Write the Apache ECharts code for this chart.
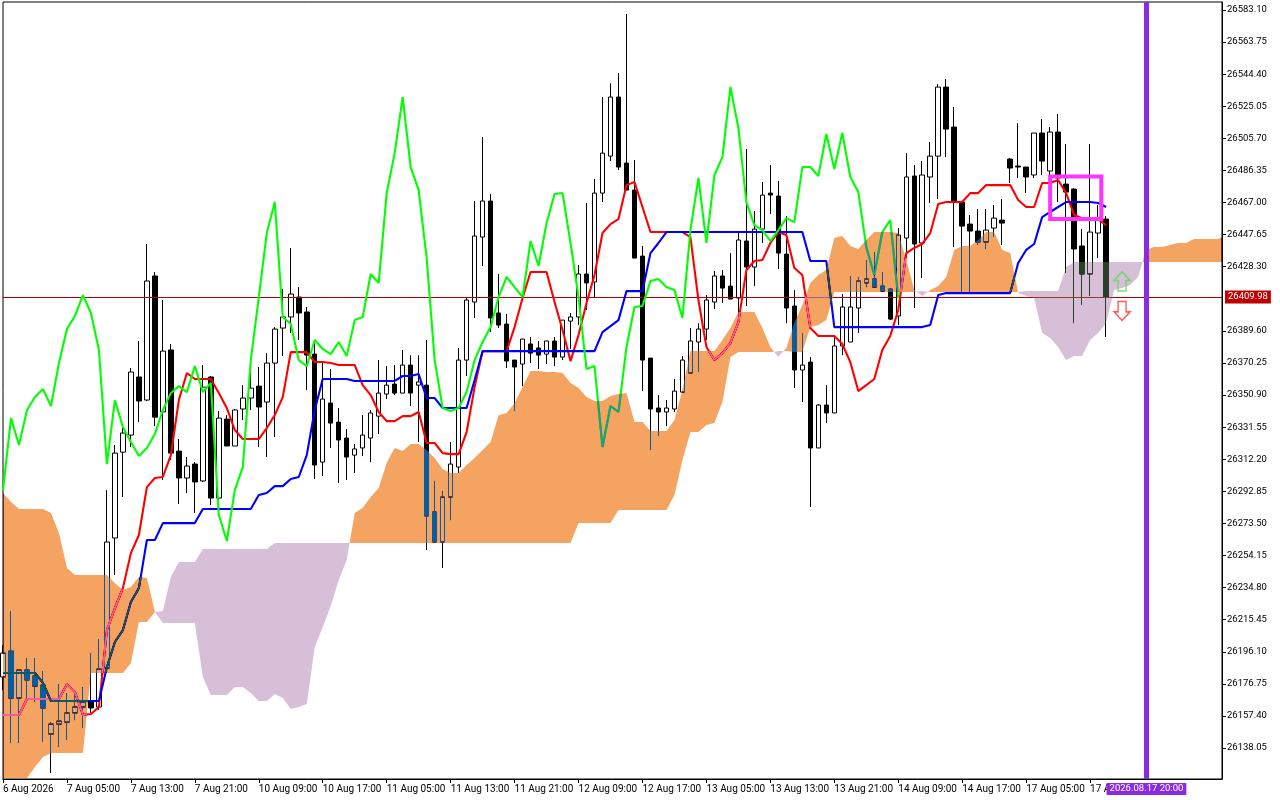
<!DOCTYPE html>
<html><head><meta charset="utf-8">
<style>html,body{margin:0;padding:0;background:#fff}#c{width:1280px;height:800px}</style>
<script src="https://cdn.jsdelivr.net/npm/echarts@6/dist/echarts.min.js"></script>
</head><body><div id="c"></div>
<script>
const timeLabels=["6 Aug 2026","7 Aug 05:00","7 Aug 13:00","7 Aug 21:00","10 Aug 09:00","10 Aug 17:00","11 Aug 05:00","11 Aug 13:00","11 Aug 21:00","12 Aug 09:00","12 Aug 17:00","13 Aug 05:00","13 Aug 13:00","13 Aug 21:00","14 Aug 09:00","14 Aug 17:00","17 Aug 05:00","17 Aug 13:00"];
const priceTicks=[26583.10,26563.75,26544.40,26525.05,26505.70,26486.35,26467.00,26447.65,26428.30,26389.60,26370.25,26350.90,26331.55,26312.20,26292.85,26273.50,26254.15,26234.80,26215.45,26196.10,26176.75,26157.40,26138.05];
const opens=[26180.9,26196.5,26168.2,26185.1,26181.5,26176.0,26146.5,26152.5,26153.7,26159.2,
26162.8,26165.8,26162.8,26186.3,26264.7,26316.5,26326.8,26361.8,26347.9,26422.7,
26340.7,26378.1,26317.1,26300.9,26309.3,26299.1,26361.8,26288.8,26336.4,26320.2,
26342.5,26349.1,26356.3,26346.7,26370.2,26391.3,26398.0,26410.0,26401.0,26375.6,
26310.5,26346.1,26334.6,26325.0,26314.7,26319.0,26325.0,26338.2,26351.5,26357.5,
26352.1,26369.0,26356.9,26356.9,26280.4,26262.3,26289.4,26307.5,26372.0,26407.0,
26446.2,26467.9,26400.4,26393.7,26372.0,26369.6,26381.7,26379.3,26375.6,26383.5,
26373.8,26395.5,26398.0,26423.9,26419.1,26472.7,26495.0,26530.6,26490.8,26474.5,
26434.7,26373.2,26343.1,26340.7,26342.5,26352.7,26364.2,26382.9,26390.7,26407.0,
26422.7,26416.6,26409.4,26443.8,26428.1,26451.0,26472.7,26470.9,26435.9,26404.6,
26366.0,26370.8,26319.0,26344.9,26340.1,26380.5,26382.9,26403.4,26418.5,26420.9,
26416.6,26414.8,26398.6,26445.6,26483.0,26442.6,26482.4,26495.0,26536.6,26512.5,
26467.3,26454.0,26449.8,26443.2,26451.6,26456.4,26493.2,26489.0,26488.4,26483.6,
26508.9,26486.0,26509.5,26478.1,26475.1,26440.8,26423.9,26448.6,26457.0];
const closes=[26195.3,26168.2,26185.1,26179.1,26175.4,26162.2,26152.5,26154.3,26159.2,26162.8,
26165.8,26162.2,26185.7,26262.3,26315.9,26328.0,26364.8,26347.3,26419.7,26337.6,
26377.4,26315.9,26300.9,26308.1,26298.5,26355.7,26288.8,26337.0,26320.2,26341.9,
26349.1,26355.1,26343.7,26370.2,26390.7,26398.0,26411.8,26400.4,26375.0,26308.7,
26348.5,26334.0,26323.8,26313.5,26318.4,26326.8,26340.1,26352.1,26356.9,26352.1,
26369.0,26352.1,26358.8,26278.0,26262.3,26289.4,26309.3,26372.0,26408.2,26446.8,
26467.9,26397.4,26393.1,26371.4,26367.8,26384.7,26376.2,26375.0,26383.5,26373.8,
26396.1,26398.0,26423.9,26418.5,26472.7,26496.8,26530.6,26488.4,26474.5,26433.5,
26372.0,26342.5,26340.7,26343.1,26353.3,26372.0,26383.5,26390.7,26408.2,26422.7,
26415.4,26408.8,26444.4,26428.1,26451.0,26471.5,26471.5,26436.5,26403.4,26366.0,
26369.0,26319.0,26344.9,26340.1,26380.5,26404.0,26404.0,26419.7,26420.9,26416.0,
26413.6,26396.7,26447.4,26482.4,26442.0,26483.6,26495.0,26536.6,26511.3,26467.3,
26452.8,26449.8,26443.2,26450.4,26457.6,26454.6,26487.8,26488.4,26482.4,26508.9,
26492.0,26509.5,26481.8,26473.3,26439.0,26423.9,26449.2,26457.6,26409.98];
const lows=[26173.0,26141.1,26141.1,26168.2,26165.8,26141.7,26123.0,26138.7,26142.9,26154.9,
26150.1,26159.2,26161.0,26185.1,26242.4,26289.4,26319.6,26334.6,26347.3,26332.2,
26299.7,26311.7,26285.2,26291.8,26279.8,26298.5,26284.6,26287.6,26320.2,26320.2,
26335.8,26341.9,26319.6,26313.5,26325.6,26374.4,26388.3,26384.1,26353.9,26300.3,
26302.1,26319.0,26297.9,26299.7,26303.9,26314.1,26310.5,26327.4,26348.5,26350.9,
26352.1,26344.3,26322.6,26257.5,26261.7,26246.6,26275.5,26303.9,26362.4,26397.4,
26428.7,26388.9,26391.3,26367.2,26341.3,26356.3,26370.2,26366.6,26369.6,26368.4,
26372.0,26378.7,26393.1,26402.2,26410.0,26467.3,26492.0,26486.6,26474.5,26433.5,
26353.3,26317.8,26326.2,26332.2,26340.7,26352.7,26364.2,26364.8,26384.1,26402.8,
26406.4,26408.8,26400.4,26404.6,26416.6,26442.6,26460.1,26426.9,26394.3,26355.1,
26346.7,26283.4,26319.0,26334.0,26340.1,26375.0,26382.9,26388.3,26416.0,26416.0,
26413.6,26396.1,26393.1,26433.5,26403.4,26421.5,26466.7,26469.1,26494.4,26440.2,
26413.0,26413.0,26441.4,26439.0,26446.2,26441.4,26478.8,26481.8,26472.7,26481.8,
26483.6,26483.6,26467.3,26424.5,26394.3,26405.2,26410.6,26433.5,26385.9];
const highs=[26200.2,26220.7,26185.7,26192.3,26192.3,26184.5,26153.7,26176.6,26171.2,26171.2,
26174.8,26195.3,26203.8,26293.6,26320.8,26331.6,26367.2,26383.5,26442.0,26425.1,
26408.2,26381.7,26324.4,26313.5,26310.5,26369.0,26362.4,26341.3,26338.8,26342.5,
26356.9,26364.2,26367.8,26376.2,26391.9,26414.8,26439.6,26416.0,26404.0,26382.3,
26370.8,26366.6,26343.1,26330.4,26321.4,26338.8,26341.9,26372.0,26368.4,26369.0,
26378.1,26375.0,26375.0,26384.1,26299.1,26293.0,26322.6,26379.3,26410.0,26467.9,
26506.5,26472.1,26423.9,26399.8,26372.0,26384.7,26385.9,26383.5,26383.5,26385.9,
26396.1,26400.4,26429.3,26466.7,26481.2,26530.6,26539.0,26545.1,26580.7,26492.6,
26440.8,26373.2,26350.9,26347.9,26360.6,26374.4,26391.3,26394.3,26411.2,26425.7,
26426.3,26436.5,26449.2,26499.3,26461.9,26479.4,26489.6,26480.0,26458.8,26414.2,
26388.3,26373.8,26345.5,26356.9,26387.1,26411.8,26422.7,26422.1,26432.3,26437.1,
26425.1,26414.8,26451.6,26496.8,26489.6,26492.0,26503.5,26538.4,26541.5,26524.6,
26467.3,26459.5,26463.1,26463.1,26465.5,26469.1,26493.8,26514.9,26488.4,26508.9,
26517.3,26512.5,26520.4,26502.3,26475.7,26451.0,26502.3,26465.5,26458.8];
const tenkan=[26158.0,26158.0,26158.0,26167.6,26167.6,26167.6,26167.6,26167.6,26176.6,26171.8,
26158.0,26158.6,26162.8,26209.2,26222.5,26234.5,26255.6,26266.5,26295.4,26300.9,
26301.5,26314.7,26347.9,26364.2,26360.6,26360.6,26360.6,26352.1,26343.1,26329.8,
26324.4,26324.4,26324.4,26331.0,26338.8,26349.7,26376.8,26376.8,26376.8,26370.8,
26370.8,26370.2,26369.0,26369.0,26369.0,26356.9,26350.9,26340.7,26335.2,26335.2,
26338.2,26338.2,26340.7,26322.0,26322.0,26315.9,26315.3,26315.3,26328.6,26355.7,
26377.4,26377.4,26377.4,26377.4,26391.9,26409.4,26425.1,26425.1,26425.1,26407.0,
26390.1,26371.4,26387.1,26406.4,26423.3,26448.6,26454.0,26457.0,26477.5,26479.4,
26464.3,26449.2,26449.2,26449.2,26449.2,26449.2,26446.2,26408.2,26379.9,26372.0,
26376.2,26382.3,26394.9,26426.3,26431.7,26432.3,26442.6,26449.2,26447.4,26427.5,
26423.3,26391.3,26386.5,26386.5,26386.5,26381.7,26370.8,26353.3,26356.9,26360.6,
26378.1,26386.5,26402.2,26436.5,26439.6,26442.0,26448.6,26466.1,26467.3,26467.3,
26467.3,26472.7,26472.7,26477.5,26477.5,26477.5,26477.5,26468.5,26464.3,26464.3,
26478.8,26478.8,26480.6,26472.7,26459.5,26457.6,26457.6,26457.0,26453.4];
const kijun=[26183.3,26183.3,26183.3,26183.3,26183.3,26177.3,26166.4,26166.4,26166.4,26166.4,
26166.4,26166.4,26166.4,26186.9,26202.0,26209.2,26226.1,26234.5,26263.5,26263.5,
26273.7,26273.7,26273.7,26273.7,26273.7,26282.2,26282.2,26282.2,26282.2,26282.2,
26282.2,26282.2,26290.6,26291.8,26296.0,26296.0,26300.3,26301.5,26314.7,26341.9,
26360.6,26360.6,26360.6,26360.6,26359.4,26359.4,26359.4,26359.4,26359.4,26359.4,
26362.4,26362.4,26363.6,26349.1,26349.1,26343.1,26343.1,26343.1,26343.1,26360.0,
26377.4,26377.4,26377.4,26377.4,26377.4,26377.4,26377.4,26377.4,26377.4,26377.4,
26377.4,26377.4,26377.4,26377.4,26377.4,26388.9,26392.5,26396.1,26413.6,26413.6,
26413.6,26436.5,26442.6,26449.2,26449.2,26449.2,26449.2,26449.2,26449.2,26449.2,
26449.2,26449.2,26449.2,26449.2,26449.2,26449.2,26449.2,26449.2,26449.2,26449.2,
26449.2,26431.7,26431.7,26431.7,26391.9,26391.9,26391.9,26391.9,26391.9,26391.9,
26391.9,26391.9,26391.9,26391.9,26391.9,26391.9,26393.1,26411.2,26412.4,26412.4,
26412.4,26412.4,26412.4,26412.4,26412.4,26412.4,26412.4,26430.5,26438.4,26442.0,
26458.2,26461.3,26464.3,26467.3,26467.3,26467.3,26467.3,26466.7,26464.3];
const chikou=[26293.6,26337.0,26320.8,26341.9,26349.7,26354.5,26344.3,26370.2,26390.7,26398.6,
26411.2,26400.4,26378.1,26309.3,26347.9,26331.6,26322.6,26314.1,26319.0,26327.4,
26341.9,26352.1,26356.3,26352.7,26368.4,26352.7,26358.2,26278.6,26262.9,26293.6,
26307.5,26372.0,26410.0,26448.6,26467.3,26398.0,26393.7,26372.0,26368.4,26384.1,
26378.7,26375.6,26382.9,26374.4,26396.1,26398.0,26423.9,26418.5,26472.7,26496.8,
26530.6,26488.4,26474.5,26433.5,26372.0,26343.1,26341.3,26343.1,26352.7,26372.0,
26382.9,26391.9,26410.0,26422.1,26416.0,26410.0,26443.8,26428.7,26454.6,26472.1,
26472.7,26442.6,26410.0,26366.6,26368.4,26319.6,26344.3,26340.7,26379.9,26404.0,
26404.6,26419.7,26420.9,26416.0,26414.2,26397.4,26450.4,26481.8,26442.6,26483.6,
26494.4,26536.6,26511.9,26467.3,26453.4,26450.4,26443.8,26450.4,26457.6,26455.2,
26488.4,26488.4,26483.0,26508.3,26487.2,26508.9,26482.4,26473.3,26440.2,26423.3,
26449.2,26456.4,26409.4];
const senkouA=[26291.8,26286.4,26282.2,26282.2,26282.2,26282.2,26279.8,26267.7,26246.6,26242.4,
26242.4,26242.4,26242.4,26242.4,26237.5,26233.3,26235.1,26241.2,26240.6,26220.1,
26213.4,26213.4,26213.4,26213.4,26213.4,26180.9,26170.0,26170.0,26170.0,26174.8,
26174.8,26171.2,26166.4,26166.4,26170.6,26168.2,26161.6,26162.8,26164.6,26198.9,
26211.0,26223.7,26239.4,26251.4,26279.8,26282.8,26289.4,26294.8,26309.9,26319.0,
26317.1,26321.4,26321.4,26317.8,26312.9,26306.3,26303.9,26303.9,26308.7,26312.9,
26317.8,26322.6,26338.8,26340.1,26346.1,26355.7,26365.4,26365.4,26364.8,26364.8,
26364.2,26358.2,26355.1,26349.7,26347.3,26347.3,26350.3,26351.5,26352.1,26334.6,
26334.6,26329.2,26329.2,26329.2,26335.8,26353.9,26377.4,26377.4,26377.4,26377.4,
26384.1,26391.3,26401.0,26401.0,26401.0,26391.3,26379.9,26373.8,26379.3,26394.3,
26405.2,26418.5,26423.3,26426.3,26445.6,26446.8,26440.8,26439.0,26444.4,26449.2,
26449.2,26449.2,26448.6,26432.3,26414.2,26410.6,26414.2,26416.6,26422.1,26438.4,
26440.8,26440.8,26444.4,26449.2,26449.2,26438.4,26436.5,26412.4,26410.6,26409.4,
26388.3,26385.3,26379.9,26372.0,26374.4,26374.4,26384.1,26388.3,26394.3,26414.2,
26415.4,26417.2,26422.1,26438.4,26440.2,26440.2,26441.4,26442.6,26442.6,26445.0,
26445.0,26445.0,26445.0,26447.4];
const senkouB=[26120.0,26120.0,26120.0,26120.0,26126.6,26132.6,26135.0,26135.0,26135.0,26135.0,
26135.0,26183.3,26183.3,26183.3,26183.3,26183.3,26189.3,26214.0,26214.0,26220.1,
26220.7,26241.2,26250.2,26250.2,26250.2,26258.1,26258.1,26258.1,26258.1,26258.1,
26258.1,26258.1,26258.1,26258.1,26261.7,26261.7,26261.7,26261.7,26261.7,26261.7,
26261.7,26261.7,26261.7,26261.7,26261.7,26261.7,26261.7,26261.7,26261.7,26261.7,
26261.7,26261.7,26261.7,26261.7,26261.7,26261.7,26261.7,26261.7,26261.7,26261.7,
26261.7,26261.7,26261.7,26261.7,26261.7,26261.7,26261.7,26261.7,26261.7,26261.7,
26261.7,26261.7,26273.7,26273.7,26273.7,26273.7,26273.7,26281.6,26281.6,26281.6,
26281.6,26281.6,26281.6,26281.6,26290.6,26311.7,26328.6,26328.6,26332.8,26334.0,
26346.7,26373.8,26376.8,26376.8,26376.8,26376.8,26376.8,26377.4,26377.4,26376.8,
26376.8,26391.9,26393.1,26396.1,26413.0,26413.0,26413.0,26413.0,26413.0,26413.0,
26413.0,26413.0,26413.0,26413.0,26413.0,26413.6,26413.0,26413.0,26413.0,26413.0,
26413.0,26413.0,26413.0,26413.0,26413.0,26413.0,26413.0,26413.0,26413.6,26413.6,
26413.6,26413.6,26413.6,26428.1,26431.1,26431.1,26431.1,26431.1,26431.1,26431.1,
26431.1,26431.1,26431.1,26431.1,26431.1,26431.1,26431.1,26431.1,26431.1,26431.1,
26431.1,26431.1,26431.1,26431.1];
const currentPrice=26409.98;
const forecastBar=143.05, forecastLabel="2026.08.17 20:00";
const boxBars=[131.0,137.4], boxPrices=[26482.7,26457.0];
const signalBar=140, buySignal=26419.4, sellSignal=26401.6;

const FONT="Roboto", FS=9.5;
const BAR_STEP=8;
const candles=opens.map((o,i)=>[i,o,closes[i],lows[i],highs[i]]);
const runs=[];
(function(){
  let cur=null;
  for(let i=0;i<senkouA.length;i++){
    const a=senkouA[i],b=senkouB[i],up=a>=b;
    if(!cur){cur={up,top:[[i,a]],bot:[[i,b]]};runs.push(cur);continue;}
    if(up!==cur.up){
      const pa=senkouA[i-1],pb=senkouB[i-1];
      const t=(pa-pb)/((pa-pb)-(a-b));
      const xc=i-1+t,yc=pa+(a-pa)*t;
      cur.top.push([xc,yc]);cur.bot.push([xc,yc]);
      cur={up,top:[[xc,yc]],bot:[[xc,yc]]};runs.push(cur);
    }
    cur.top.push([i,a]);cur.bot.push([i,b]);
  }
})();
const chart=echarts.init(document.getElementById('c'),null,{renderer:'canvas'});
const line=(name,arr,color,z)=>({type:'line',name,data:arr.map((v,i)=>[i,v]),showSymbol:false,symbol:'none',z,
  lineStyle:{color,width:2.1},itemStyle:{color},silent:true,animation:false,clip:true});
const arrowUp='path://M8,0 L16,9 L12,9 L12,20 L4,20 L4,9 L0,9 Z';
const arrowDown='path://M4,0 L12,0 L12,11 L16,11 L8,20 L0,11 L4,11 Z';
chart.setOption({
  animation:false,backgroundColor:'#ffffff',
  grid:{left:2,top:2,right:58,bottom:21,show:true,borderColor:'#000',borderWidth:1,backgroundColor:'transparent'},
  xAxis:{type:'value',min:0,max:152.5,splitLine:{show:false},
    axisLine:{show:true,onZero:false,lineStyle:{color:'#000'}},
    axisTick:{show:true,length:4,lineStyle:{color:'#000'},customValues:timeLabels.map((_,i)=>i*BAR_STEP)},
    axisLabel:{customValues:timeLabels.map((_,i)=>i*BAR_STEP),align:'left',margin:5,color:'#000',fontFamily:FONT,fontSize:10,
      formatter:v=>timeLabels[Math.round(v/BAR_STEP)]||''}},
  yAxis:{type:'value',position:'right',min:26119.39,max:26587.92,scale:true,splitLine:{show:false},
    axisLine:{show:true,onZero:false,lineStyle:{color:'#000'}},
    axisTick:{show:true,length:4,lineStyle:{color:'#000'},customValues:priceTicks},
    axisLabel:{customValues:priceTicks,margin:5,padding:[6,0,0,0],color:'#000',fontFamily:FONT,fontSize:FS,formatter:v=>v.toFixed(2)}},
  series:[
    {type:'candlestick',name:'Price',data:candles,encode:{x:0,y:[1,2,3,4]},barWidth:5,z:2,silent:true,clip:true,
      itemStyle:{color:'#ffffff',color0:'#000000',borderColor:'#000000',borderColor0:'#000000',borderWidth:1},
      markLine:{silent:true,symbol:'none',animation:false,z:3,
        data:[{yAxis:currentPrice}],lineStyle:{color:'#B00000',width:1,type:'solid'},
        label:{show:true,position:'end',distance:3,formatter:()=>currentPrice.toFixed(2),color:'#fff',backgroundColor:'#C00000',
          padding:[2,3,1,3],fontFamily:FONT,fontSize:FS}}},
    line('Tenkan',tenkan,'#FF0000',4),
    line('Kijun',kijun,'#0000FF',5),
    line('Chikou',chikou,'#00FF00',6),
    {type:'custom',name:'Cloud',coordinateSystem:'cartesian2d',z:10,silent:true,clip:true,animation:false,blendMode:'difference',
      data:runs.map((r,i)=>[r.top[0][0],r.top[0][1],i]),encode:{x:0,y:1},
      renderItem:(p,api)=>{
        const r=runs[p.dataIndex];
        const pts=r.top.concat(r.bot.slice().reverse()).map(q=>api.coord(q));
        return {type:'polygon',shape:{points:pts},silent:true,
          style:{fill:r.up?'#0B5B9F':'#274027',stroke:null}};
      }},
    {type:'custom',name:'Box',coordinateSystem:'cartesian2d',z:12,silent:true,clip:false,animation:false,
      data:[[boxBars[0],boxPrices[0]]],encode:{x:0,y:1},
      renderItem:(p,api)=>{
        const a=api.coord([boxBars[0],boxPrices[0]]),b=api.coord([boxBars[1],boxPrices[1]]);
        return {type:'rect',shape:{x:a[0],y:a[1],width:b[0]-a[0],height:b[1]-a[1]},
          style:{fill:null,stroke:'#FF33FF',lineWidth:4}};
      }},
    {type:'scatter',name:'Buy',data:[[signalBar,buySignal]],symbol:arrowUp,symbolSize:[16,19],z:12,silent:true,
      itemStyle:{color:'rgba(255,255,255,0)',borderColor:'#55DD55',borderWidth:1.5}},
    {type:'scatter',name:'Sell',data:[[signalBar,sellSignal]],symbol:arrowDown,symbolSize:[16,19],z:12,silent:true,
      itemStyle:{color:'rgba(255,255,255,0)',borderColor:'#FF3030',borderWidth:1.5}},
    {type:'line',name:'Marker',data:[],z:13,silent:true,
      markLine:{silent:true,symbol:'none',animation:false,z:13,data:[{xAxis:forecastBar}],
        lineStyle:{color:'#8A2BE2',width:5,type:'solid'},
        label:{show:true,position:'start',distance:4,formatter:()=>forecastLabel,color:'#fff',backgroundColor:'#8A2BE2',
          padding:[1,3,1,3],fontFamily:FONT,fontSize:FS}}}
  ]
});
</script></body></html>
